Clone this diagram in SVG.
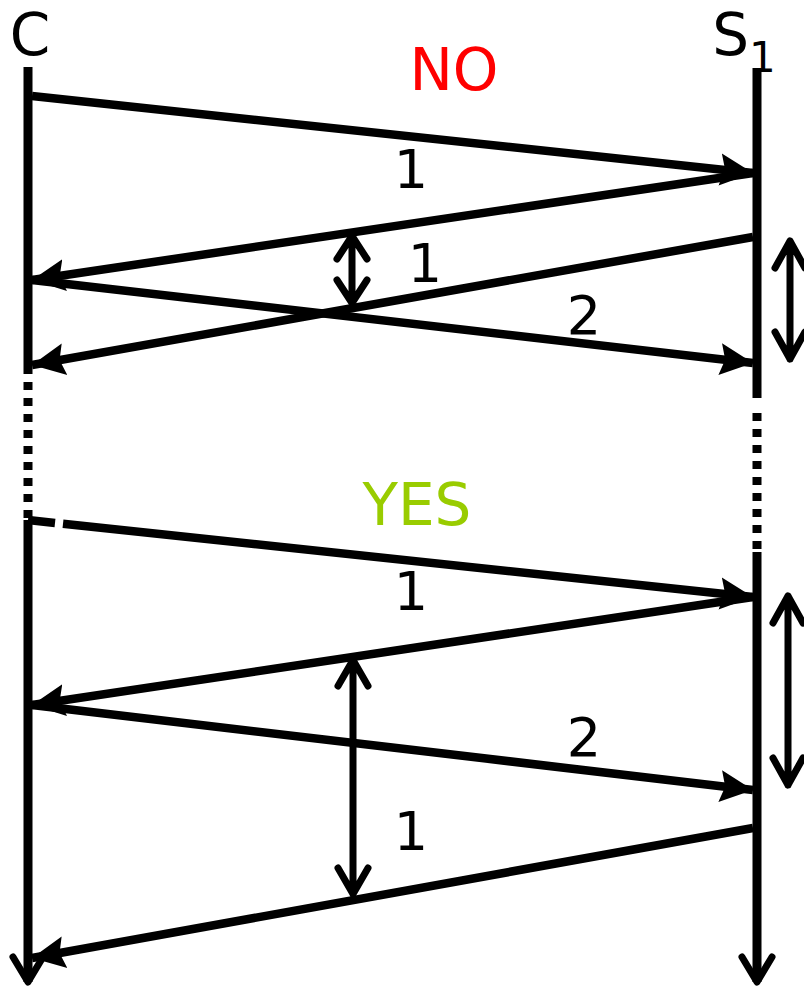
<svg xmlns="http://www.w3.org/2000/svg" width="804" height="987" viewBox="0 0 804 987">
<style>
.life{stroke:#000;stroke-width:9;fill:none}
.dot{stroke:#000;stroke-width:9;fill:none;stroke-dasharray:8 8}
.msg{stroke:#000;stroke-width:8.5;fill:none}
.dbl{stroke:#000;stroke-width:7;fill:none;stroke-linecap:round;stroke-linejoin:round}
.lbl{font-family:"DejaVu Sans",sans-serif;font-size:54px;fill:#000;text-anchor:middle}
.big{font-family:"DejaVu Sans",sans-serif;font-size:58px;text-anchor:middle}
</style>
<defs>
<marker id="ah" markerUnits="userSpaceOnUse" markerWidth="40" markerHeight="40" viewBox="0 0 40 40" refX="33" refY="20" orient="auto">
<path d="M0,4 L33,20 L0,36 L5,20 z" fill="#000"/>
</marker>
</defs>
<rect width="804" height="987" fill="#fff"/>
<g id="C">
<text class="big" x="30" y="55" fill="#000">C</text>
<path class="life" d="M28,67 V374"/>
<path class="dot" d="M28,382 V520"/>
<path class="life" d="M28,520 V982"/>
<path class="dbl" d="M13,957 L28,982 L43,957" stroke-width="8"/>
</g>
<g id="S1">
<text class="big" x="744" y="55" fill="#000">S<tspan font-size="42" dy="17">1</tspan></text>
<path class="life" d="M757,68 V398"/>
<path class="dot" d="M757,413 V552"/>
<path class="life" d="M757,552 V982"/>
<path class="dbl" d="M742,957 L757,982 L772,957" stroke-width="8"/>
</g>
<g id="NO"><text class="big" x="454" y="90" fill="#ff0000">NO</text></g>
<g id="YES"><text class="big" x="417" y="525" fill="#99cc00">YES</text></g>
<g id="connectors">
<line class="msg" x1="32" y1="96" x2="753" y2="173" marker-end="url(#ah)"/>
<line class="msg" x1="753" y1="173" x2="32" y2="280" marker-end="url(#ah)"/>
<line class="msg" x1="753" y1="237" x2="32" y2="365" marker-end="url(#ah)"/>
<line class="msg" x1="32" y1="280" x2="753" y2="363" marker-end="url(#ah)"/>
<line class="msg" x1="28" y1="520" x2="55" y2="522.9"/>
<line class="msg" x1="63" y1="523.7" x2="753" y2="597" marker-end="url(#ah)"/>
<line class="msg" x1="753" y1="597" x2="32" y2="705" marker-end="url(#ah)"/>
<line class="msg" x1="32" y1="705" x2="753" y2="790" marker-end="url(#ah)"/>
<line class="msg" x1="753" y1="828" x2="32" y2="958" marker-end="url(#ah)"/>
<path class="dbl" d="M352,236 V303 M337,259 L352,236 L367,259 M337,280 L352,303 L367,280"/>
<path class="dbl" d="M353,660 V894 M338,686 L353,660 L368,686 M338,868 L353,894 L368,868"/>
<path class="dbl" d="M790,241 V359 M775,268 L790,241 L805,268 M775,332 L790,359 L805,332"/>
<path class="dbl" d="M788,596 V785 M773,623 L788,596 L803,623 M773,758 L788,785 L803,758"/>
</g>
<g id="labels">
<text class="lbl" x="411" y="188">1</text>
<text class="lbl" x="425" y="282">1</text>
<text class="lbl" x="584" y="334">2</text>
<text class="lbl" x="411" y="610">1</text>
<text class="lbl" x="584" y="756">2</text>
<text class="lbl" x="411" y="850">1</text>
</g>
</svg>
